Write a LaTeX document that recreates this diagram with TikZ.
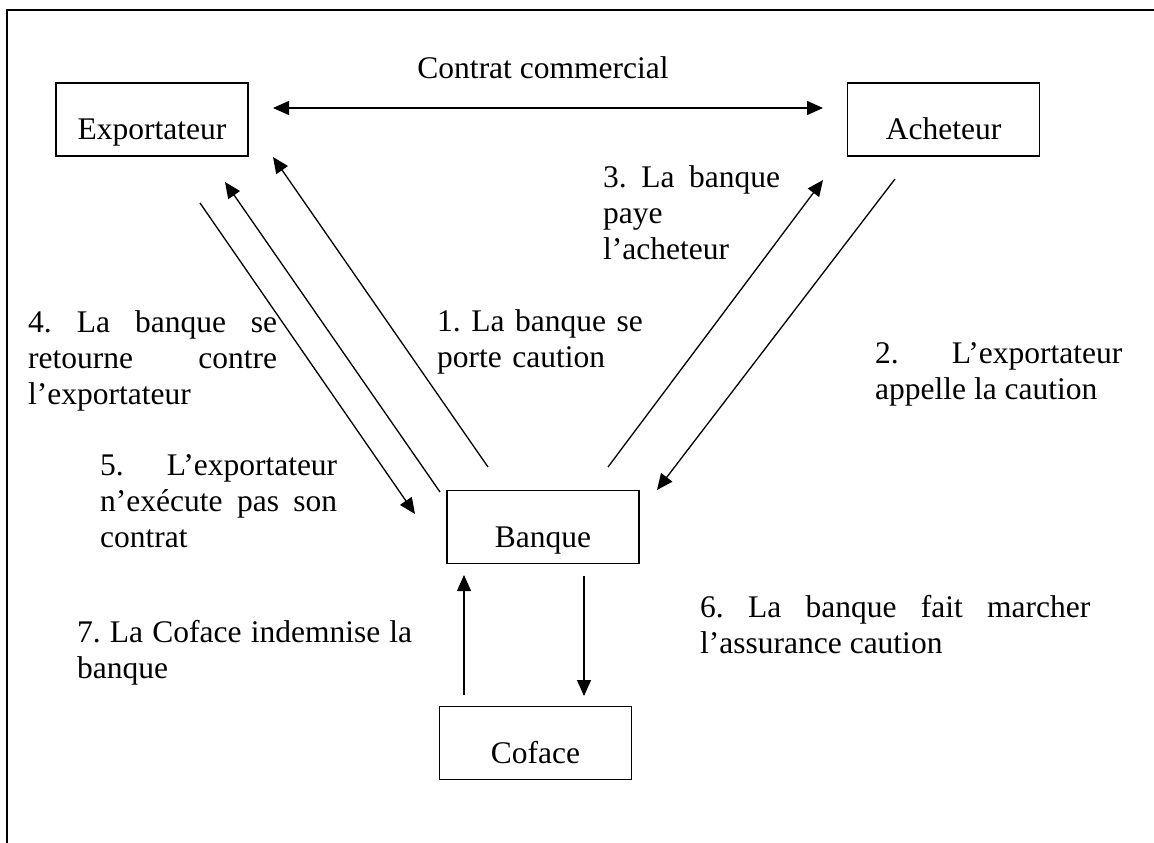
\documentclass[tikz,border=0pt]{standalone}
\usepackage{fontspec}
\setmainfont{Liberation Serif}
\usetikzlibrary{arrows.meta}
\tolerance=10000
\hyphenpenalty=10000
\frenchspacing
\begin{document}
\begin{tikzpicture}[x=1pt,y=-1pt,
  txt/.style={font=\fontsize{31.5}{36}\selectfont\frenchspacing},
  box/.style={txt, draw, line width=1.6pt, inner sep=0pt, minimum width=192pt,
    minimum height=73pt, text height=46pt, text depth=6pt},
  lbl/.style={txt, inner sep=0pt, anchor=base west, align=justify},
  arr/.style={line width=1.3pt, -{Triangle[length=16pt,width=14pt]}},
  darr/.style={line width=1.3pt, {Triangle[length=16pt,width=14pt]}-{Triangle[length=16pt,width=14pt]}},
  frame/.style={line width=2pt}
]
\useasboundingbox (0,0) rectangle (1154,843);
% frame (top and left edges)
\draw[frame] (7,843) -- (7,10.5) -- (1154,10.5);

% boxes
\node[box] (exp) at (152,119.5) {Exportateur};
\node[box] (ach) at (943.5,119.5) {Acheteur};
\node[box] (ban) at (543,527) {Banque};
\node[box] (cof) at (535.5,743) {Coface};

% connector end points
\coordinate (cL) at (273,108);
\coordinate (cR) at (823,108);
\coordinate (a1s) at (488,467);
\coordinate (a1e) at (273,157);
\coordinate (a4s) at (440,492);
\coordinate (a4e) at (225,182);
\coordinate (a5s) at (200,203);
\coordinate (a5e) at (415,514);
\coordinate (a3s) at (608,467);
\coordinate (a3e) at (823,180);
\coordinate (a2s) at (895,179);
\coordinate (a2e) at (657,490);
\coordinate (a7s) at (464,695);
\coordinate (a7e) at (464,575);
\coordinate (a6s) at (584,576);
\coordinate (a6e) at (584,696);

% connectors
\draw[darr] (cL) -- (cR);
\draw[arr] (a1s) -- (a1e);
\draw[arr] (a4s) -- (a4e);
\draw[arr] (a5s) -- (a5e);
\draw[arr] (a3s) -- (a3e);
\draw[arr] (a2s) -- (a2e);
\draw[arr] (a7s) -- (a7e);
\draw[arr] (a6s) -- (a6e);

% labels
\node[txt, inner sep=0pt, anchor=base] (lc) at (543,78) {Contrat commercial};
\node[lbl, text width=215pt, align=left] (l1) at (437,331) {1. La banque se\\porte caution};
\node[lbl, text width=247pt] (l2) at (875,363) {2. L’exportateur\linebreak appelle la caution};
\node[lbl, text width=177pt] (l3) at (603,187) {3. La banque\linebreak paye\linebreak l’acheteur};
\node[lbl, text width=249pt] (l4) at (28,332) {4. La banque se\linebreak retourne contre\linebreak l’exportateur};
\node[lbl, text width=237pt] (l5) at (100,475) {5. L’exportateur\linebreak n’exécute pas son\linebreak contrat};
\node[lbl, text width=390pt] (l6) at (700,617) {6. La banque fait marcher\linebreak l’assurance caution};
\node[lbl, text width=335pt] (l7) at (77,642) {7. La Coface indemnise la\linebreak banque};
\end{tikzpicture}
\end{document}
